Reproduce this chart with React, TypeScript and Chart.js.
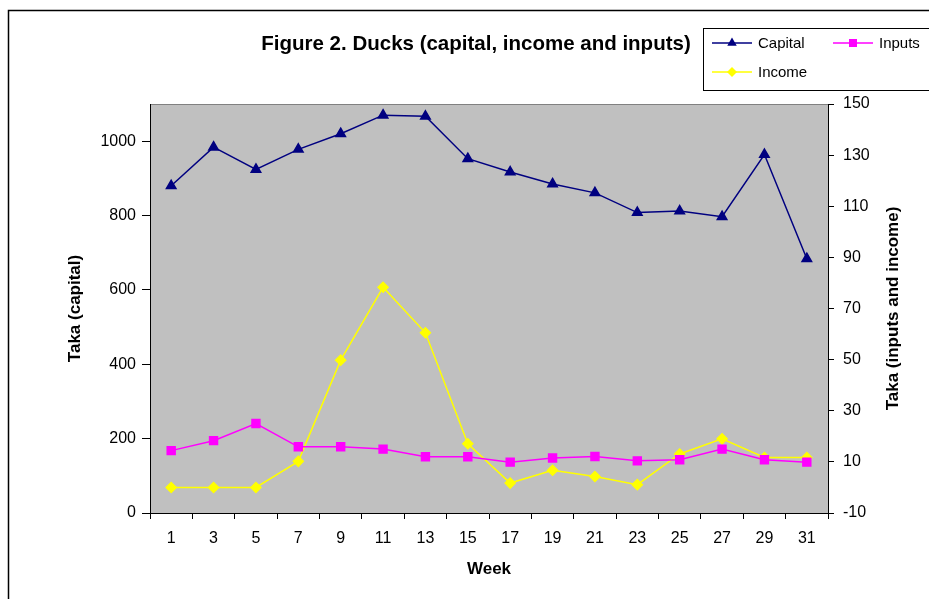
import React, { useEffect, useRef } from "react";
import { Chart, registerables } from "chart.js";

Chart.register(...registerables);

const weeks = ["1", "3", "5", "7", "9", "11", "13", "15", "17", "19", "21", "23", "25", "27", "29", "31"];
const capital = [880, 984, 924, 978, 1020, 1070, 1067, 953, 917, 885, 861, 808, 812, 797, 964, 684];
const inputs = [14.4, 18.3, 25, 15.9, 15.9, 15, 12, 12, 9.9, 11.5, 12.1, 10.4, 10.8, 15, 10.8, 9.9];
const income = [0, 0, 0, 10.2, 49.8, 78.3, 60.5, 17.1, 1.7, 6.7, 4.3, 1.1, 13.1, 19, 11.7, 11.7];
const leftTicks = [0, 200, 400, 600, 800, 1000];
const rightTicks = [-10, 10, 30, 50, 70, 90, 110, 130, 150];

const titleText = "Figure 2. Ducks (capital, income and inputs)";
const xTitle = "Week";
const leftTitle = "Taka (capital)";
const rightTitle = "Taka (inputs and income)";

const FONT = "Arial, 'Liberation Sans', sans-serif";

function drawMarker(ctx: CanvasRenderingContext2D, style: string, x: number, y: number, color: string) {
  ctx.save();
  ctx.fillStyle = color;
  ctx.strokeStyle = color;
  ctx.beginPath();
  if (style === "triangle") {
    const r = 5.5;
    ctx.moveTo(x, y - r);
    ctx.lineTo(x + r * 0.866, y + r * 0.5);
    ctx.lineTo(x - r * 0.866, y + r * 0.5);
  } else if (style === "rect") {
    ctx.rect(x - 4, y - 4, 8, 8);
  } else {
    const r = 5;
    ctx.moveTo(x, y - r);
    ctx.lineTo(x + r, y);
    ctx.lineTo(x, y + r);
    ctx.lineTo(x - r, y);
  }
  ctx.closePath();
  ctx.fill();
  ctx.restore();
}

const decorPlugin = {
  id: "decor",
  beforeDraw(chart: any) {
    const { ctx, chartArea } = chart;
    ctx.save();
    ctx.fillStyle = "#ffffff";
    ctx.fillRect(0, 0, chart.width, chart.height);
    ctx.fillStyle = "#C0C0C0";
    ctx.fillRect(chartArea.left, chartArea.top, chartArea.right - chartArea.left, chartArea.bottom - chartArea.top);
    ctx.strokeStyle = "#808080";
    ctx.lineWidth = 1;
    ctx.beginPath();
    ctx.moveTo(chartArea.left, chartArea.top + 0.5);
    ctx.lineTo(chartArea.right, chartArea.top + 0.5);
    ctx.stroke();
    ctx.restore();
  },
  afterDraw(chart: any) {
    const { ctx, chartArea } = chart;
    ctx.save();
    // outer frame
    ctx.strokeStyle = "#000000";
    ctx.lineWidth = 1.5;
    ctx.strokeRect(8.5, 10.5, 1200, 1200);
    // title
    ctx.fillStyle = "#000000";
    ctx.font = `bold 20.5px ${FONT}`;
    ctx.textAlign = "center";
    ctx.textBaseline = "alphabetic";
    ctx.fillText(titleText, 476, 50);
    // right axis title
    ctx.save();
    ctx.translate(893, (chartArea.top + chartArea.bottom) / 2);
    ctx.rotate(-Math.PI / 2);
    ctx.font = `bold 17px ${FONT}`;
    ctx.textAlign = "center";
    ctx.textBaseline = "middle";
    ctx.fillText(rightTitle, 0, 0);
    ctx.restore();
    // legend box
    ctx.fillStyle = "#ffffff";
    ctx.fillRect(703.5, 28.5, 260, 62);
    ctx.strokeStyle = "#000000";
    ctx.lineWidth = 1;
    ctx.strokeRect(703.5, 28.5, 260, 62);
    const items = [
      { ds: 0, x: 712, y: 43 },
      { ds: 1, x: 833, y: 43 },
      { ds: 2, x: 712, y: 72 },
    ];
    items.forEach((it) => {
      const ds: any = chart.data.datasets[it.ds];
      ctx.strokeStyle = ds.borderColor;
      ctx.lineWidth = 1.5;
      ctx.beginPath();
      ctx.moveTo(it.x, it.y);
      ctx.lineTo(it.x + 40, it.y);
      ctx.stroke();
      drawMarker(ctx, ds.pointStyle, it.x + 20, it.y, ds.pointBackgroundColor);
      ctx.fillStyle = "#000000";
      ctx.font = `15px ${FONT}`;
      ctx.textAlign = "left";
      ctx.textBaseline = "middle";
      ctx.fillText(ds.label, it.x + 46, it.y + 1);
    });
    ctx.restore();
  },
};

export default function App() {
  const ref = useRef<HTMLCanvasElement | null>(null);
  useEffect(() => {
    if (!ref.current) return;
    const tickFont = { family: FONT, size: 16 };
    const plain = (v: any) => String(v);
    const chart = new Chart(ref.current, {
      type: "line",
      data: {
        labels: weeks,
        datasets: [
          {
            label: "Capital",
            data: capital,
            yAxisID: "y",
            borderColor: "#000080",
            backgroundColor: "#000080",
            pointBackgroundColor: "#000080",
            pointBorderColor: "#000080",
            pointStyle: "triangle",
            pointRadius: 5.5,
            borderWidth: 1.5,
            tension: 0,
          },
          {
            label: "Inputs",
            data: inputs,
            yAxisID: "y1",
            borderColor: "#FF00FF",
            backgroundColor: "#FF00FF",
            pointBackgroundColor: "#FF00FF",
            pointBorderColor: "#FF00FF",
            pointStyle: "rect",
            pointRadius: 5.6,
            borderWidth: 1.5,
            tension: 0,
          },
          {
            label: "Income",
            data: income,
            yAxisID: "y1",
            borderColor: "#FFFF00",
            backgroundColor: "#FFFF00",
            pointBackgroundColor: "#FFFF00",
            pointBorderColor: "#FFFF00",
            pointStyle: "rectRot",
            pointRadius: 5,
            borderWidth: 1.5,
            tension: 0,
          },
        ],
      },
      options: {
        responsive: false,
        animation: false,
        layout: { padding: { top: 104, left: 0, right: 0, bottom: 0 } },
        plugins: {
          legend: { display: false },
          title: { display: false },
          tooltip: { enabled: false },
        },
        scales: {
          x: {
            type: "category",
            offset: true,
            grid: { offset: true, drawOnChartArea: false, tickLength: 6, color: "#000000" },
            border: { color: "#000000", width: 1 },
            ticks: { font: tickFont, color: "#000000", padding: 10, maxRotation: 0, autoSkip: false },
            title: { display: true, text: xTitle, color: "#000000", font: { family: FONT, size: 17, weight: "bold" }, padding: { top: 0, bottom: 19 } },
            afterFit: (s: any) => { s.height = 86; },
          },
          y: {
            type: "linear",
            position: "left",
            min: 0,
            max: 1100,
            afterBuildTicks: (s: any) => { s.ticks = leftTicks.map((v) => ({ value: v })); },
            grid: { drawOnChartArea: false, tickLength: 8, color: "#000000" },
            border: { color: "#000000", width: 1 },
            ticks: { font: tickFont, color: "#000000", padding: 6, callback: plain },
            title: { display: true, text: leftTitle, color: "#000000", font: { family: FONT, size: 17, weight: "bold" }, padding: { top: 65, bottom: 0 } },
            afterFit: (s: any) => { s.width = 150; },
          },
          y1: {
            type: "linear",
            position: "right",
            min: -10,
            max: 150,
            afterBuildTicks: (s: any) => { s.ticks = rightTicks.map((v) => ({ value: v })); },
            grid: { drawOnChartArea: false, tickLength: 6, color: "#000000" },
            border: { color: "#000000", width: 1 },
            ticks: { font: tickFont, color: "#000000", padding: 9, callback: plain },
            afterFit: (s: any) => { s.width = 101; },
          },
        },
      } as any,
      plugins: [decorPlugin],
    });
    return () => chart.destroy();
  }, []);
  return (
    <div style={{ position: "fixed", left: 0, top: 0, width: 929, height: 599 }}>
      <canvas ref={ref} width={929} height={599} />
    </div>
  );
}
